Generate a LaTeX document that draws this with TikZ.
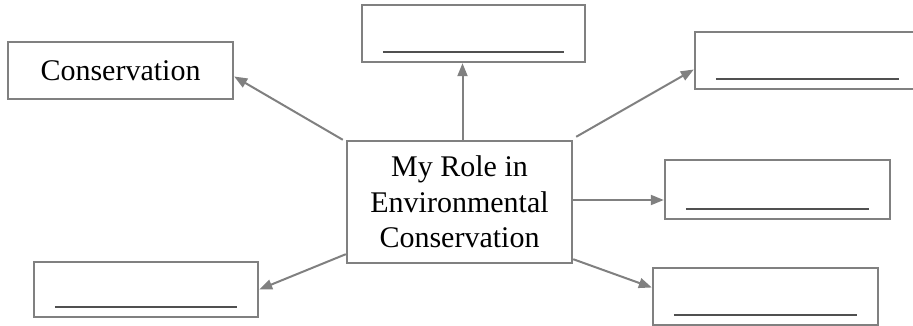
\documentclass[tikz,border=0pt]{standalone}
\usepackage{fontspec}
\setmainfont{Liberation Serif}
\usetikzlibrary{calc, positioning}
\usetikzlibrary{arrows.meta}

\definecolor{boxgray}{RGB}{128,128,128}
\definecolor{linegray}{RGB}{80,80,80}

\tikzset{
  box/.style={draw=boxgray, line width=2.4pt, minimum width=225pt, inner sep=0pt,
    font=\fontsize{30}{35.5}\selectfont, align=center},
  blank/.style={box, minimum height=57pt},
  fillline/.style={draw=linegray, line width=2pt},
  link/.style={draw=boxgray, line width=2pt, -{Triangle[length=13pt, width=10pt]}}
}

\begin{document}
\begin{tikzpicture}[x=1pt,y=-1pt]
\useasboundingbox (0,0) rectangle (913,326);

\node[box, minimum height=122pt] (role) at (459.5,202) {My Role in\\Environmental\\Conservation};

\node[box, minimum height=57pt] (cons) at (120.5,70.5) {Conservation};
\node[blank, minimum width=223pt] (top) at (473.5,33.5) {};
\node[blank] (topright) at (807.5,60.5) {};
\node[blank, minimum height=59pt] (right) at (777.5,189.5) {};
\node[blank] (botright) at (765.5,296.5) {};
\node[blank, minimum width=224pt, minimum height=55pt] (botleft) at (146,289.5) {};

% lines to fill in
\foreach \b in {top,topright,right,botright,botleft}
  \draw[fillline] ([xshift=22pt,yshift=11pt]\b.south west) -- ([xshift=-22pt,yshift=11pt]\b.south east);

\draw[link] ([xshift=-3pt]role.north west) -- ([yshift=-6pt]cons.east);
\draw[link] ([xshift=3pt]role.north) -- ([xshift=3pt]role.north |- top.south);
\draw[link] ([xshift=3pt,yshift=3pt]role.north east) -- ([yshift=-9pt]topright.west);
\draw[link] ([yshift=2pt]role.east) -- ([yshift=2pt]role.east -| right.west);
\draw[link] ([yshift=5pt]role.south east) -- ([yshift=9pt]botright.west);
\draw[link] ([yshift=10pt]role.south west) -- (botleft.east);
\end{tikzpicture}
\end{document}
